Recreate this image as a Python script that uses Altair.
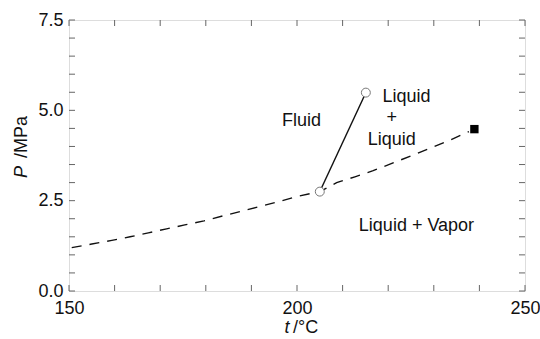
import altair as alt
import pandas as pd

# dashed L=V boundary
curve_t = [150.6, 155.0, 159.4, 163.4, 167.4, 171.4, 175.4, 179.6, 183.8, 187.9, 191.9,
           195.9, 200.1, 205.0, 208.7, 212.7, 216.7, 220.8, 225.2, 229.2, 233.6, 237.7]
curve_p = [1.20, 1.30, 1.40, 1.50, 1.61, 1.72, 1.83, 1.94, 2.08, 2.21, 2.34,
           2.47, 2.62, 2.75, 3.00, 3.16, 3.33, 3.53, 3.75, 3.95, 4.18, 4.41]

# L=L line endpoints (open circles)
ll_t = [205.0, 215.1]
ll_p = [2.75, 5.49]

# critical point (filled square)
cp_t = [238.9]
cp_p = [4.48]

# region labels
lab_text = ["Fluid", "Liquid", "+", "Liquid", "Liquid + Vapor"]
lab_t = [201.0, 224.0, 220.8, 220.8, 226.2]
lab_p = [4.71, 5.38, 4.78, 4.18, 1.80]

# ticks
x_ticks = list(range(150, 251, 10))
y_ticks = [i * 0.5 for i in range(0, 16)]

W, H = 456, 271
FONT = "Liberation Sans"
FS = 18

xs = alt.Scale(domain=[150, 250], nice=False, zero=False)
ys = alt.Scale(domain=[0, 7.5], nice=False, zero=False)

xax = alt.Axis(values=[150, 200, 250], ticks=False, domain=False, grid=False, title=None,
               labelFont=FONT, labelFontSize=FS, labelColor="#111", labelPadding=8,
               labelFlush=False, labelOverlap=False)
yax = alt.Axis(values=[0, 2.5, 5.0, 7.5], ticks=False, domain=False, grid=False, title=None,
               format=".1f", labelFont=FONT, labelFontSize=FS, labelColor="#111",
               labelPadding=6, labelFlush=False, labelOverlap=False)

curve_df = pd.DataFrame({"t": curve_t, "P": curve_p})
ll_df = pd.DataFrame({"t": ll_t, "P": ll_p})
cp_df = pd.DataFrame({"t": cp_t, "P": cp_p})
lab_df = pd.DataFrame({"text": lab_text, "t": lab_t, "P": lab_p})
xt_df = pd.DataFrame({"v": x_ticks})
yt_df = pd.DataFrame({"v": y_ticks})

curve = alt.Chart(curve_df).mark_line(color="#111", strokeWidth=1.4, strokeDash=[10, 8]).encode(
    x=alt.X("t:Q", scale=xs, axis=xax),
    y=alt.Y("P:Q", scale=ys, axis=yax),
)

ll_line = alt.Chart(ll_df).mark_line(color="#111", strokeWidth=1.3).encode(
    x=alt.X("t:Q", scale=xs), y=alt.Y("P:Q", scale=ys))
ll_pts = alt.Chart(ll_df).mark_point(shape="circle", filled=True, fill="white", stroke="#777",
                                     strokeWidth=1, size=80, opacity=1).encode(
    x=alt.X("t:Q", scale=xs), y=alt.Y("P:Q", scale=ys))
cp_pt = alt.Chart(cp_df).mark_point(shape="square", filled=True, color="#000", size=70,
                                    opacity=1).encode(
    x=alt.X("t:Q", scale=xs), y=alt.Y("P:Q", scale=ys))

labels = alt.Chart(lab_df).mark_text(font=FONT, fontSize=FS, color="#111",
                                     align="center", baseline="middle").encode(
    x=alt.X("t:Q", scale=xs), y=alt.Y("P:Q", scale=ys), text="text:N")

TL = 6
tick_col = "#666"
xt_bot = alt.Chart(xt_df).mark_rule(color=tick_col, strokeWidth=1).encode(
    x=alt.X("v:Q", scale=xs), y=alt.value(H), y2=alt.value(H - TL))
xt_top = alt.Chart(xt_df).mark_rule(color=tick_col, strokeWidth=1).encode(
    x=alt.X("v:Q", scale=xs), y=alt.value(0), y2=alt.value(TL))
yt_left = alt.Chart(yt_df).mark_rule(color=tick_col, strokeWidth=1).encode(
    y=alt.Y("v:Q", scale=ys), x=alt.value(0), x2=alt.value(TL))
yt_right = alt.Chart(yt_df).mark_rule(color=tick_col, strokeWidth=1).encode(
    y=alt.Y("v:Q", scale=ys), x=alt.value(W), x2=alt.value(W - TL))

one = pd.DataFrame({"a": [0]})
# axis titles with italic symbols
ytitle_p = alt.Chart(one).mark_text(text="P", font=FONT, fontSize=FS, fontStyle="italic",
                                    angle=270, align="center", baseline="middle",
                                    color="#111").encode(x=alt.value(-47), y=alt.value(152))
ytitle_u = alt.Chart(one).mark_text(text="/MPa", font=FONT, fontSize=FS, angle=270,
                                    align="left", baseline="middle",
                                    color="#111").encode(x=alt.value(-47), y=alt.value(138))
xtitle_t = alt.Chart(one).mark_text(text="t", font=FONT, fontSize=FS, fontStyle="italic",
                                    align="center", baseline="middle",
                                    color="#111").encode(x=alt.value(218), y=alt.value(308))
xtitle_u = alt.Chart(one).mark_text(text="/°C", font=FONT, fontSize=FS, align="left",
                                    baseline="middle",
                                    color="#111").encode(x=alt.value(224), y=alt.value(308))

chart = alt.layer(
    xt_bot, xt_top, yt_left, yt_right,
    curve, ll_line, ll_pts, cp_pt, labels,
    ytitle_p, ytitle_u, xtitle_t, xtitle_u,
).properties(
    width=W, height=H,
    autosize=alt.AutoSizeParams(type="none"),
    padding={"left": 69, "top": 20, "right": 15, "bottom": 48},
).configure_view(
    stroke="#444", strokeWidth=1
).configure(background="white")

chart.save("out.html", embed_options={"renderer": "svg", "actions": False})
